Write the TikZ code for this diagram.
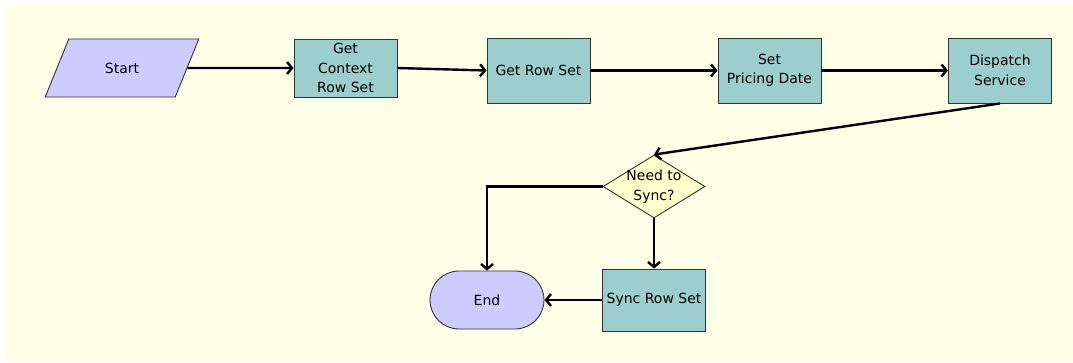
\documentclass[tikz,border=0pt]{standalone}
\usepackage{fontspec}
\setmainfont{DejaVu Sans}
\usetikzlibrary{shapes.geometric,arrows.meta}

\definecolor{canvas}{RGB}{255,255,231}
\definecolor{taskfill}{RGB}{156,206,206}
\definecolor{termfill}{RGB}{204,204,255}
\definecolor{decfill}{RGB}{255,255,204}

\begin{document}
\begin{tikzpicture}[
    x=1pt, y=-1pt,
    font=\fontsize{14}{19.5}\selectfont,
    task/.style={rectangle, draw=black!80, line width=0.9pt, fill=taskfill, minimum width=103pt, minimum height=65pt, inner sep=1pt, align=center},
    terminal/.style={rectangle, rounded corners=29pt, draw=black!80, line width=0.9pt, fill=termfill, minimum width=114pt, minimum height=58pt},
    decision/.style={diamond, draw=black!80, line width=0.9pt, fill=decfill, minimum width=102pt, minimum height=63pt, inner sep=-10pt, align=center},
    flow/.style={draw, line width=2.4pt, -{Straight Barb[length=5pt,width=12pt]}}
]

% Canvas
\useasboundingbox (0,0) rectangle (1073,362);
\fill[white] (0,0) rectangle (1073,362);
\fill[canvas] (6,3) rectangle (1073,362);

% Define node positions
\node[trapezium, trapezium left angle=57.5, trapezium right angle=122.5, trapezium stretches=true,
      draw=black!80, line width=0.9pt, fill=termfill, minimum width=154pt, minimum height=58pt, inner sep=1pt] (start) at (122,68) {Start};
\node[task, minimum height=58pt] (context) at (345.5,68) {Get\\Context\\Row Set};
\node[task] (rowset) at (538.5,70.5) {Get Row Set};
\node[task] (pricing) at (769.5,70.5) {Set\\Pricing Date};
\node[task] (dispatch) at (1000,70.5) {Dispatch\\Service};
\node[decision] (needsync) at (654,186.5) {Need to\\Sync?};
\node[task, minimum height=62pt] (syncset) at (654,300) {Sync Row Set};
\node[terminal] (end) at (487,300) {End};

% Draw connectors
\draw[flow] (start.east) -- (context.west);
\draw[flow] (context.east) -- (rowset.west);
\draw[flow] (rowset.east) -- (pricing.west);
\draw[flow] (pricing.east) -- (dispatch.west);
\draw[flow] (dispatch.south) -- (needsync.north);
\draw[flow] (needsync.west) -| (end.north);
\draw[flow] (needsync.south) -- (syncset.north);
\draw[flow] (syncset.west) -- (end.east);

\end{tikzpicture}
\end{document}
